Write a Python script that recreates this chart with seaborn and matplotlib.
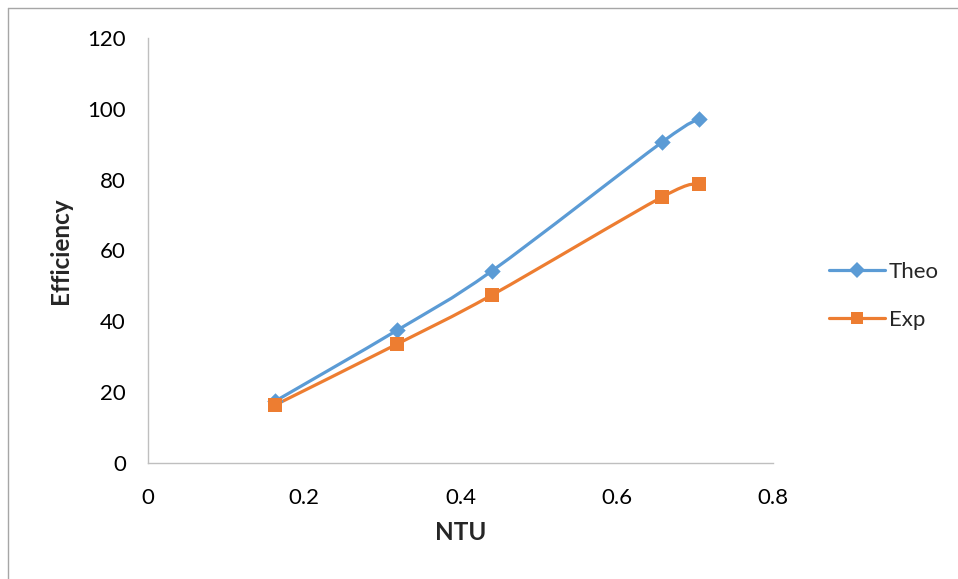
import numpy as np
import matplotlib
matplotlib.use("Agg")
import matplotlib.pyplot as plt
from matplotlib.path import Path
from matplotlib.patches import PathPatch
from matplotlib.lines import Line2D
import seaborn as sns
import pandas as pd

ntu = [0.163, 0.319, 0.440, 0.658, 0.705]
theo = [17.5, 37.5, 54.2, 90.6, 97.1]
exp_ = [16.4, 33.6, 47.4, 75.1, 78.8]
x_ticks = [0, 0.2, 0.4, 0.6, 0.8]
y_ticks = [0, 20, 40, 60, 80, 100, 120]

sns.set_theme(style="white")
plt.rcParams["font.family"] = ["Lato", "DejaVu Sans"]

W, H = 958, 579
fig = plt.figure(figsize=(W / 100, H / 100), dpi=100)
ax = fig.add_axes([148 / W, 1 - 463 / H, (773 - 148) / W, (463 - 38) / H])

df = pd.DataFrame({"NTU": ntu * 2, "Efficiency": theo + exp_,
                   "Series": ["Theo"] * len(ntu) + ["Exp"] * len(ntu)})
colors = {"Theo": "#5B9BD5", "Exp": "#ED7D31"}
markers = {"Theo": "D", "Exp": "s"}
msize = {"Theo": 70, "Exp": 110}


def smooth_path(xs, ys):
    """Cardinal-spline style cubic Bezier through the points."""
    pts = np.column_stack([xs, ys])
    verts = [pts[0]]
    codes = [Path.MOVETO]
    n = len(pts)
    for i in range(n - 1):
        p0 = pts[max(i - 1, 0)]
        p1 = pts[i]
        p2 = pts[i + 1]
        p3 = pts[min(i + 2, n - 1)]
        c1 = p1 + (p2 - p0) / 6.0
        c2 = p2 - (p3 - p1) / 6.0
        verts += [c1, c2, p2]
        codes += [Path.CURVE4] * 3
    return Path(verts, codes)


for name, vals in (("Theo", theo), ("Exp", exp_)):
    ax.add_patch(PathPatch(smooth_path(ntu, vals), fill=False,
                           edgecolor=colors[name], lw=2.3, zorder=2,
                           capstyle="round", joinstyle="round"))

for name in ("Theo", "Exp"):
    sub = df[df["Series"] == name]
    sns.scatterplot(data=sub, x="NTU", y="Efficiency", ax=ax,
                    marker=markers[name], s=msize[name], color=colors[name],
                    edgecolor=colors[name], linewidth=0, zorder=3, legend=False)

ax.set_xlim(0, 0.8)
ax.set_ylim(0, 120)
ax.set_xticks(x_ticks)
ax.set_xticklabels(["0", "0.2", "0.4", "0.6", "0.8"])
ax.set_yticks(y_ticks)
ax.tick_params(axis="both", labelsize=16, colors="#000000", length=0)
ax.tick_params(axis="x", pad=18)
ax.tick_params(axis="y", pad=16)
for s in ("top", "right"):
    ax.spines[s].set_visible(False)
for s in ("left", "bottom"):
    ax.spines[s].set_color("#bfbfbf")
    ax.spines[s].set_linewidth(1.0)
ax.grid(False)

ax.set_xlabel("NTU", fontsize=17.5, fontweight="bold", labelpad=9)
ax.set_ylabel("Efficiency", fontsize=17.5, fontweight="bold", labelpad=11)

handles = [Line2D([0], [0], color=colors[n], lw=2.3, marker=markers[n],
                  markersize=8 if n == "Theo" else 9, markeredgewidth=0)
           for n in ("Theo", "Exp")]
fig.legend(handles, ["Theo", "Exp"], loc="center left",
           bbox_to_anchor=(809 / W, 1 - 296 / H), frameon=False,
           fontsize=16, handlelength=2.5, handletextpad=0.2,
           labelspacing=1.25)

# outer chart border
fig.add_artist(Line2D([8 / W, 1], [1 - 8 / H, 1 - 8 / H], color="#a6a6a6",
                      lw=1.0, transform=fig.transFigure))
fig.add_artist(Line2D([8 / W, 8 / W], [0, 1 - 8 / H], color="#a6a6a6",
                      lw=1.0, transform=fig.transFigure))

fig.savefig("out.png", dpi=100, facecolor="white")
